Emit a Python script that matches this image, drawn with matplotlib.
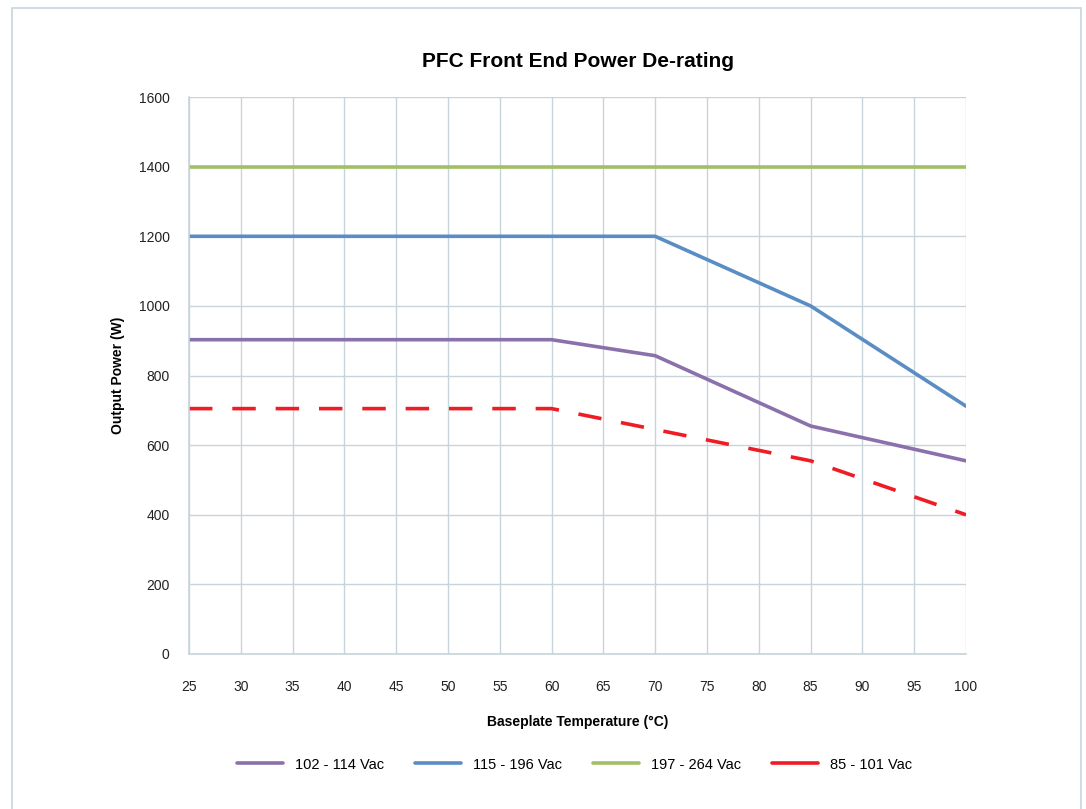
import matplotlib.pyplot as plt
from matplotlib.patches import Rectangle

plt.rcParams['font.family'] = ['Liberation Sans', 'DejaVu Sans']

# Baseplate temperature (C) and output power (W) per input range
temp = [25, 60, 70, 85, 100]
p_102_114 = [903, 903, 857, 655, 555]
p_115_196 = [1200, 1200, 1200, 1000, 712]
p_197_264 = [1400, 1400, 1400, 1400, 1400]
p_85_101 = [705, 705, 645, 555, 400]

x_ticks = list(range(25, 101, 5))
y_ticks = list(range(0, 1601, 200))

grid_color = '#c7d4d9'

fig = plt.figure(figsize=(10.86, 8.09), dpi=100)
ax = fig.add_axes([0.174, 0.1916, 0.7155, 0.6884])

ax.plot(temp, p_102_114, color='#8B71AB', lw=2.6, label='102 - 114 Vac', solid_capstyle='round')
ax.plot(temp, p_115_196, color='#5A8DC3', lw=2.6, label='115 - 196 Vac', solid_capstyle='round')
ax.plot(temp, p_197_264, color='#A3BF66', lw=2.6, label='197 - 264 Vac', solid_capstyle='round')
ax.plot(temp, p_85_101, color='#EE1C25', lw=2.6, label='85 - 101 Vac',
        dashes=(6.5, 5.5))

ax.set_xlim(25, 100)
ax.set_ylim(0, 1600)
ax.set_xticks(x_ticks)
ax.set_yticks(y_ticks)
ax.tick_params(length=0, labelsize=10, colors='#222222')
ax.tick_params(axis='x', pad=19)
ax.tick_params(axis='y', pad=14)
ax.grid(True, color=grid_color, lw=1)
ax.set_axisbelow(True)
for side in ['top', 'right']:
    ax.spines[side].set_visible(False)
for side in ['left', 'bottom']:
    ax.spines[side].set_color(grid_color)
    ax.spines[side].set_linewidth(1.2)

ax.set_xlabel('Baseplate Temperature (°C)', fontsize=10, fontweight='bold', labelpad=15)
ax.set_ylabel('Output Power (W)', fontsize=10, fontweight='bold', labelpad=10)
fig.text(0.5325, 0.924, 'PFC Front End Power De-rating', ha='center', va='center',
         fontsize=15, fontweight='bold')

leg = fig.legend(loc='center', bbox_to_anchor=(0.529, 0.055), ncol=4, frameon=False,
                 fontsize=10.5, handlelength=3.2, columnspacing=2.1, handletextpad=0.8)
for line in leg.get_lines():
    line.set_linestyle('-')
    line.set_solid_capstyle('round')

fig.patches.append(Rectangle((0.011, -0.01), 0.984, 1.0, transform=fig.transFigure,
                             fill=False, edgecolor='#c8d6da', lw=1.2))

fig.savefig('out.png', dpi=100)
